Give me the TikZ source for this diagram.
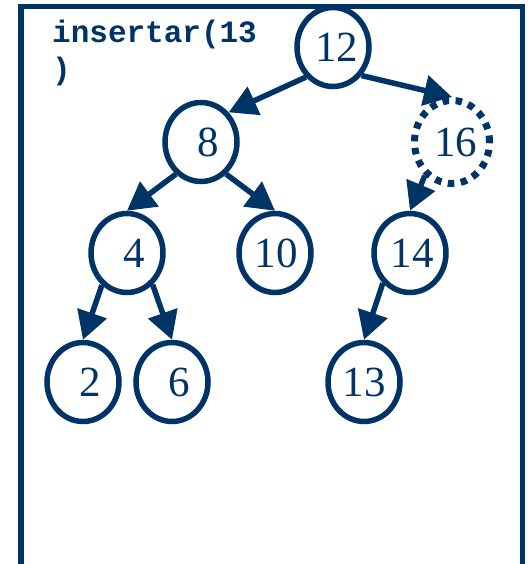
\documentclass[tikz,border=0pt]{standalone}
\usepackage{fontspec}
\setmainfont{Liberation Serif}
\setmonofont{Liberation Mono}
\usetikzlibrary{arrows.meta,shapes.geometric}
\definecolor{navy}{RGB}{0,51,102}
% key text, nudged right inside its ellipse by half of #1
\newcommand{\keytext}[2]{\makebox[0pt]{\hspace*{#1pt}#2}}
\tikzset{
  tnode/.style={ellipse, draw=navy, line width=5.5pt, minimum width=72pt,
    minimum height=79pt, inner sep=0pt, text=navy,
    font=\fontsize{43}{46}\selectfont},
  newnode/.style={tnode, line width=7pt, dash pattern=on 6.5pt off 6.5pt,
    minimum width=75pt, minimum height=83pt},
  edge/.style={draw=navy, line width=5.5pt,
    -{Triangle[length=28pt,width=30pt]}},
}
\begin{document}
\begin{tikzpicture}[x=1pt,y=-1pt]
  \useasboundingbox (0,0) rectangle (531,564);
  % frame
  \draw[navy, line width=5.5pt, line join=miter] (21,570) -- (21,6.5) -- (522.5,6.5) -- (522.5,570);
  % operation label (anchored on the baseline of its last line)
  \node[anchor=base west, inner sep=0pt, align=left, text=navy,
    font=\ttfamily\bfseries\fontsize{31}{37}\selectfont] (op) at (52,80) {insertar(13\\)};
  % tree
  \node[tnode] (n12) at (333,47) {\keytext{7}{12}};
  \node[tnode] (n8) at (201,142) {\keytext{14}{8}};
  \node[newnode] (n16) at (452,142) {\keytext{7}{16}};
  \node[tnode] (n4) at (127,253) {\keytext{14}{4}};
  \node[tnode] (n10) at (275,253) {\keytext{2}{10}};
  \node[tnode] (n14) at (410,253) {\keytext{4}{14}};
  \node[tnode] (n2) at (83,382) {\keytext{14}{2}};
  \node[tnode] (n6) at (172,382) {\keytext{14}{6}};
  \node[tnode] (n13) at (364,382) {\keytext{0}{13}};
  % links
  \draw[edge] (n12.-132) -- (n8.47);
  \draw[edge] (n12.-45) -- (n16.north);
  \draw[edge] (n8.-128) -- (n4.north);
  \draw[edge] (n8.-52) -- (n10.north);
  \draw[edge] (n16.-129) -- (n14.north);
  \draw[edge] (n4.-128) -- (n2.north);
  \draw[edge] (n4.-51) -- (n6.north);
  \draw[edge] (n14.-132) -- (n13.north);
\end{tikzpicture}
\end{document}
